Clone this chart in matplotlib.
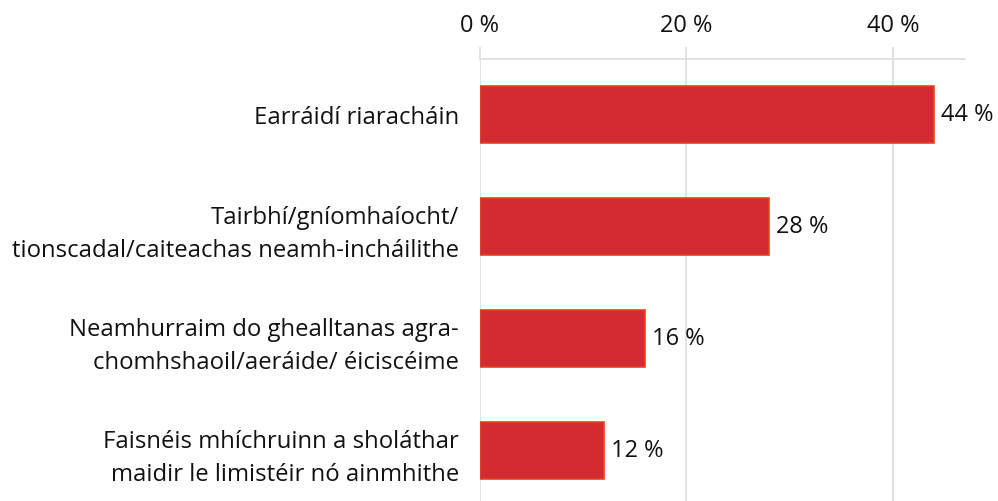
import numpy as np
import matplotlib.pyplot as plt

plt.rcParams['font.family'] = ['Open Sans', 'DejaVu Sans']

# Data
categories = [
    "Earráidí riaracháin",
    "Tairbhí/gníomhaíocht/\ntionscadal/caiteachas neamh-incháilithe",
    "Neamhurraim do ghealltanas agra-\nchomhshaoil/aeráide/ éiciscéime",
    "Faisnéis mhíchruinn a sholáthar\nmaidir le limistéir nó ainmhithe",
]
values = [44, 28, 16, 12]
ticks = [0, 20, 40]

fig = plt.figure(figsize=(9.98, 5.01), dpi=100)
ax = fig.add_axes([480 / 998, 0, 485 / 998, 1 - 59 / 501])

y = np.arange(len(categories))
ax.barh(y, values, height=0.51, color='#d42a32', edgecolor='#e8441e', linewidth=1.2, zorder=3)

for yi, v in zip(y, values):
    ax.text(v + 0.7, yi, f"{v} %", va='center', ha='left', fontsize=17, color='#111111')

ax.set_xlim(0, 47.0)
ax.set_ylim(3.45, -0.4955)
ax.set_yticks(y)
ax.set_yticklabels(categories, fontsize=17.2, color='#111111', linespacing=1.5)
ax.tick_params(axis='y', length=0, pad=15)

ax.xaxis.tick_top()
ax.set_xticks(ticks)
ax.set_xticklabels([f"{t} %" for t in ticks], fontsize=17, color='#111111')
ax.tick_params(axis='x', length=9, color='#dddddd', width=1.2, pad=6)
ax.grid(axis='x', color='#dddddd', linewidth=1.2, zorder=0)

for s in ['left', 'right', 'bottom']:
    ax.spines[s].set_visible(False)
ax.spines['top'].set_color('#dddddd')
ax.spines['top'].set_linewidth(1.2)

fig.savefig('out.png', dpi=100)
